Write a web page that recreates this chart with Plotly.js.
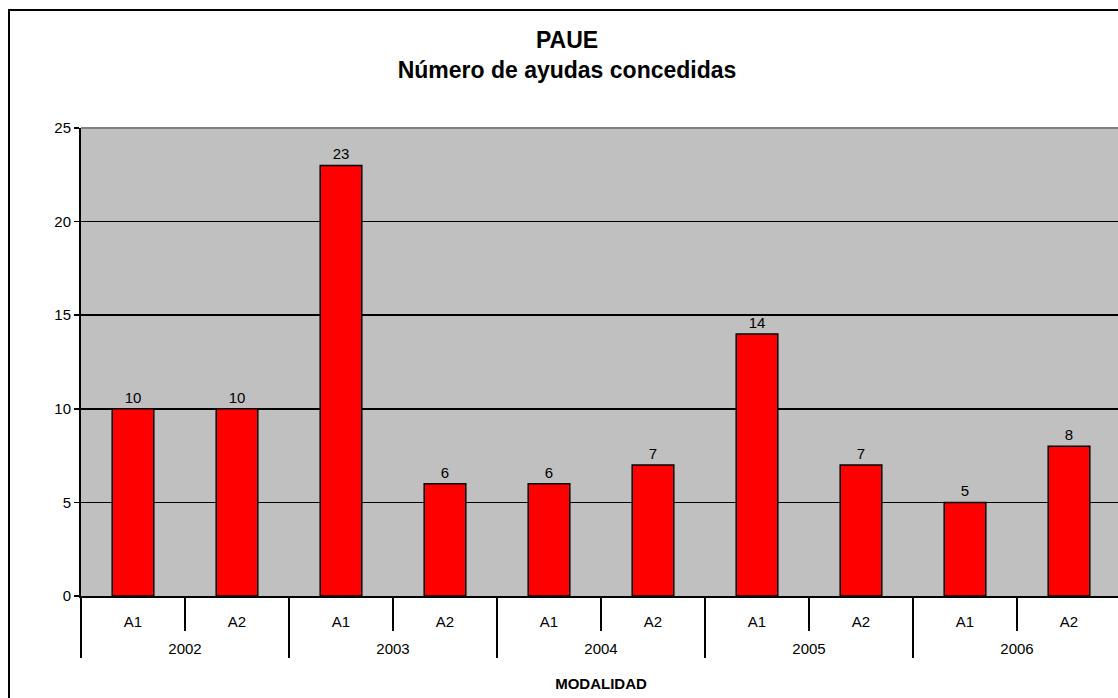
<!DOCTYPE html>
<html>
<head>
<meta charset="utf-8">
<script src="https://cdn.plot.ly/plotly-3.0.1.min.js"></script>
<style>
html,body{margin:0;padding:0;overflow:hidden;background:#fff;}
#chart{width:1140px;height:698px;}
</style>
</head>
<body>
<div id="chart"></div>
<script>
var years = ["2002","2002","2003","2003","2004","2004","2005","2005","2006","2006"];
var modalidades = ["A1","A2","A1","A2","A1","A2","A1","A2","A1","A2"];
var ayudas = [10,10,23,6,6,7,14,7,5,8];
var yTicks = [0,5,10,15,20,25];

var FONT = "Liberation Sans, Arial, sans-serif";

// second-row labels are pushed one line lower, as in the reference
var yearLabels = years.map(function (y) { return "\u00a0<br>" + y; });

var trace = {
  type: "bar",
  x: [yearLabels, modalidades],
  y: ayudas,
  text: ayudas.map(String),
  textposition: "outside",
  cliponaxis: false,
  textfont: {family: FONT, size: 15, color: "#000"},
  marker: {color: "#FF0000", line: {color: "#000", width: 1.5}},
  hoverinfo: "skip"
};

var layout = {
  width: 1140,
  height: 698,
  margin: {l: 81, r: 19, t: 128, b: 102},
  paper_bgcolor: "#fff",
  plot_bgcolor: "#C0C0C0",
  bargap: 0.6,
  showlegend: false,
  font: {family: FONT, size: 15, color: "#000"},
  title: {
    text: "<b>PAUE</b><br><b>Número de ayudas concedidas</b>",
    font: {family: FONT, size: 23, color: "#000"},
    xref: "container", x: 567/1140, xanchor: "center",
    yref: "container", y: 1 - 48/698, yanchor: "top"
  },
  xaxis: {
    type: "multicategory",
    showline: true, linecolor: "#000", linewidth: 1.5,
    ticks: "outside", ticklen: 33, tickwidth: 1.5, tickcolor: "#000",
    ticklabelstandoff: 11,
    showdividers: true, dividercolor: "#000", dividerwidth: 1.5,
    tickfont: {family: FONT, size: 15, color: "#000"},
    showgrid: false,
    title: {text: "<b>MODALIDAD</b>", font: {family: FONT, size: 15, color: "#000"}, standoff: 22}
  },
  yaxis: {
    range: [0, 25],
    tickvals: yTicks,
    showline: true, linecolor: "#000", linewidth: 2,
    ticks: "outside", ticklen: 5, tickwidth: 1.5, tickcolor: "#000",
    showgrid: true, gridcolor: "#000", gridwidth: 1.5,
    zeroline: false,
    tickfont: {family: FONT, size: 15, color: "#000"}
  },
  shapes: [
    {type: "line", xref: "paper", yref: "paper", x0: 0, x1: 1, y0: 1, y1: 1,
     line: {color: "#808080", width: 2}, layer: "above"},
    {type: "rect", xref: "paper", yref: "paper",
     x0: (9 - 81) / 1040, x1: 1.2, y0: -0.5, y1: (596 - 10) / 468,
     line: {color: "#000", width: 2}, fillcolor: "rgba(0,0,0,0)", layer: "below"}
  ]
};

Plotly.newPlot("chart", [trace], layout, {displayModeBar: false, staticPlot: true});
</script>
</body>
</html>
